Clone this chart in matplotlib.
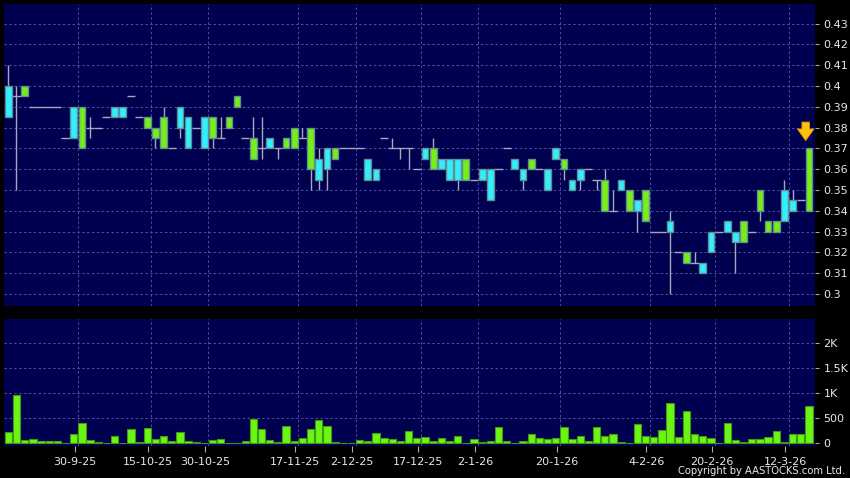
import numpy as np
import matplotlib
matplotlib.use("Agg")
import matplotlib.pyplot as plt

# daily candles (one per trading day with deals), oldest first
open_ = [0.385, 0.395, 0.40, 0.39, 0.39, 0.39, 0.39, 0.375, 0.375, 0.39,
         0.38, 0.38, 0.385, 0.385, 0.385, 0.395, 0.385, 0.385, 0.38, 0.385,
         0.37, 0.38, 0.37, 0.38, 0.37, 0.385, 0.375, 0.385, 0.395, 0.375,
         0.375, 0.37, 0.37, 0.37, 0.375, 0.38, 0.375, 0.38, 0.355, 0.36,
         0.37, 0.37, 0.37, 0.37, 0.355, 0.355, 0.375, 0.37, 0.37, 0.37,
         0.36, 0.365, 0.37, 0.36, 0.355, 0.355, 0.365, 0.355, 0.355, 0.345,
         0.36, 0.37, 0.36, 0.355, 0.365, 0.36, 0.35, 0.365, 0.365, 0.35,
         0.355, 0.36, 0.355, 0.355, 0.34, 0.35, 0.35, 0.34, 0.35, 0.33,
         0.33, 0.33, 0.32, 0.32, 0.315, 0.31, 0.32, 0.33, 0.33, 0.325,
         0.335, 0.33, 0.35, 0.335, 0.335, 0.335, 0.34, 0.345, 0.37]
close = [0.40, 0.395, 0.395, 0.39, 0.39, 0.39, 0.39, 0.375, 0.39, 0.37,
         0.38, 0.38, 0.385, 0.39, 0.39, 0.395, 0.385, 0.38, 0.375, 0.37,
         0.37, 0.39, 0.385, 0.38, 0.385, 0.375, 0.375, 0.38, 0.39, 0.375,
         0.365, 0.37, 0.375, 0.37, 0.37, 0.37, 0.375, 0.36, 0.365, 0.37,
         0.365, 0.37, 0.37, 0.37, 0.365, 0.36, 0.375, 0.37, 0.37, 0.37,
         0.36, 0.37, 0.36, 0.365, 0.365, 0.365, 0.355, 0.355, 0.36, 0.36,
         0.36, 0.37, 0.365, 0.36, 0.36, 0.36, 0.36, 0.37, 0.36, 0.355,
         0.36, 0.36, 0.355, 0.34, 0.34, 0.355, 0.34, 0.345, 0.335, 0.33,
         0.33, 0.335, 0.32, 0.315, 0.315, 0.315, 0.33, 0.33, 0.335, 0.33,
         0.325, 0.33, 0.34, 0.33, 0.33, 0.35, 0.345, 0.345, 0.34]
high = [0.41, 0.40, 0.40, 0.39, 0.39, 0.39, 0.39, 0.375, 0.39, 0.39,
        0.385, 0.38, 0.385, 0.39, 0.39, 0.395, 0.385, 0.385, 0.38, 0.39,
        0.37, 0.39, 0.385, 0.38, 0.385, 0.385, 0.385, 0.385, 0.395, 0.375,
        0.385, 0.385, 0.375, 0.37, 0.375, 0.38, 0.38, 0.38, 0.37, 0.37,
        0.37, 0.37, 0.37, 0.37, 0.365, 0.36, 0.375, 0.375, 0.37, 0.37,
        0.36, 0.37, 0.375, 0.365, 0.365, 0.365, 0.365, 0.355, 0.36, 0.36,
        0.36, 0.37, 0.365, 0.36, 0.365, 0.36, 0.36, 0.37, 0.365, 0.355,
        0.36, 0.36, 0.355, 0.36, 0.35, 0.355, 0.35, 0.345, 0.35, 0.33,
        0.33, 0.34, 0.32, 0.32, 0.32, 0.315, 0.33, 0.33, 0.335, 0.33,
        0.335, 0.33, 0.35, 0.335, 0.335, 0.355, 0.35, 0.345, 0.37]
low = [0.385, 0.35, 0.395, 0.39, 0.39, 0.39, 0.39, 0.375, 0.375, 0.37,
       0.375, 0.38, 0.385, 0.385, 0.385, 0.395, 0.385, 0.38, 0.37, 0.37,
       0.37, 0.375, 0.37, 0.38, 0.37, 0.37, 0.375, 0.38, 0.39, 0.375,
       0.365, 0.365, 0.37, 0.365, 0.37, 0.37, 0.375, 0.35, 0.35, 0.35,
       0.365, 0.37, 0.37, 0.37, 0.355, 0.355, 0.375, 0.37, 0.365, 0.36,
       0.36, 0.365, 0.36, 0.36, 0.355, 0.35, 0.355, 0.355, 0.355, 0.345,
       0.36, 0.37, 0.36, 0.35, 0.36, 0.36, 0.35, 0.365, 0.355, 0.35,
       0.35, 0.36, 0.35, 0.34, 0.34, 0.35, 0.34, 0.33, 0.335, 0.33,
       0.33, 0.30, 0.32, 0.315, 0.315, 0.31, 0.32, 0.33, 0.33, 0.31,
       0.325, 0.33, 0.335, 0.33, 0.33, 0.335, 0.34, 0.345, 0.34]
volume = [226, 960, 54, 86, 40, 40, 40, 5, 173, 406,
          60, 27, 5, 140, 5, 273, 27, 293, 80, 140,
          33, 220, 33, 13, 5, 60, 80, 5, 5, 33,
          480, 280, 66, 13, 340, 33, 100, 280, 460, 333,
          13, 7, 5, 66, 40, 193, 93, 73, 40, 246,
          100, 120, 40, 100, 33, 146, 5, 86, 13, 33,
          313, 33, 7, 47, 173, 100, 80, 93, 313, 80,
          140, 33, 313, 140, 173, 13, 7, 373, 146, 113,
          253, 800, 120, 640, 173, 140, 93, 7, 400, 60,
          27, 80, 80, 113, 240, 13, 173, 173, 746]

date_labels = ["30-9-25", "15-10-25", "30-10-25", "17-11-25", "2-12-25", "17-12-25",
               "2-1-26", "20-1-26", "4-2-26", "20-2-26", "12-3-26"]
date_pos = [8.5, 17.5, 24.5, 35.5, 42.5, 50.5, 57.5, 67.5, 78.5, 86.5, 95.5]

price_ticks = [0.30, 0.31, 0.32, 0.33, 0.34, 0.35, 0.36, 0.37, 0.38, 0.39, 0.40, 0.41, 0.42, 0.43]
vol_ticks = [0, 500, 1000, 1500, 2000]
vol_tick_labels = ["0", "500", "1K", "1.5K", "2K"]

bg = "#000050"
up_col = "#33eeff"
dn_col = "#77ee1a"
grid_col = "#50509a"
line_col = "#a8a8bc"
txt_col = "#e8e8e8"

W, H = 850, 478
fig = plt.figure(figsize=(W / 100, H / 100), dpi=100, facecolor="black")
ax = fig.add_axes([4 / W, (H - 306) / H, 811 / W, 302 / H], facecolor=bg)
axv = fig.add_axes([4 / W, (H - 446) / H, 811 / W, 127 / H], facecolor=bg)

x = np.arange(len(open_))
o = np.array(open_)
c = np.array(close)
hi = np.array(high)
lo = np.array(low)

# wicks
ax.vlines(x, lo, hi, color=line_col, lw=1, zorder=2)
# flat days as short horizontal line
flat = o == c
ax.hlines(o[flat], x[flat] - 0.5, x[flat] + 0.5, color=line_col, lw=1, zorder=2)
# bodies
body = ~flat
cols = np.where(c > o, up_col, dn_col)
ax.bar(x[body], np.abs(c - o)[body], bottom=np.minimum(o, c)[body], width=0.82,
       color=cols[body], edgecolor="#5f8f8f", linewidth=1, zorder=3)

# latest-day marker
ax.annotate("", xy=(x[-1] - 0.4, 0.3724), xytext=(x[-1] - 0.4, 0.3840),
            arrowprops=dict(arrowstyle="simple,head_length=0.7,head_width=1.0,tail_width=0.45",
                            mutation_scale=12, fc="#ffc20e", ec="#e08a00", lw=0.6), zorder=5)

axv.bar(x, volume, width=0.9, color="#6cf514", edgecolor="#3f9a12", linewidth=0.8, zorder=3)

xlim = (-0.53, 98.74)
for a in (ax, axv):
    a.set_xlim(*xlim)
    for s in a.spines.values():
        s.set_visible(False)
    for p in date_pos:
        a.axvline(p, color=grid_col, lw=0.7, ls=(0, (2.5, 2.5)), zorder=1)
    a.yaxis.tick_right()
    a.tick_params(axis="y", colors=line_col, labelcolor=txt_col, labelsize=8,
                  length=3, width=0.8, pad=3, direction="out")

ax.set_ylim(0.29423, 0.43942)
ax.set_yticks(price_ticks)
ax.set_yticklabels(["%g" % t for t in price_ticks])
for t in price_ticks:
    ax.axhline(t, color=grid_col, lw=0.7, ls=(0, (2.5, 2.5)), zorder=1)
ax.set_xticks([])

axv.set_ylim(-60, 2480)
axv.set_yticks(vol_ticks)
axv.set_yticklabels(vol_tick_labels)
for t in vol_ticks[1:]:
    axv.axhline(t, color=grid_col, lw=0.7, ls=(0, (2.5, 2.5)), zorder=1)
axv.set_xticks([p - 0.4 for p in date_pos])
axv.set_xticklabels(date_labels)
axv.tick_params(axis="x", colors=line_col, labelcolor=txt_col, labelsize=8,
                length=4, width=0.8, pad=4, direction="out")

fig.text(845 / W, 1 - 471 / H, "Copyright by AASTOCKS.com Ltd.", color=txt_col,
         fontsize=7.2, ha="right", va="center")

fig.savefig("out.png", dpi=100, facecolor="black")
